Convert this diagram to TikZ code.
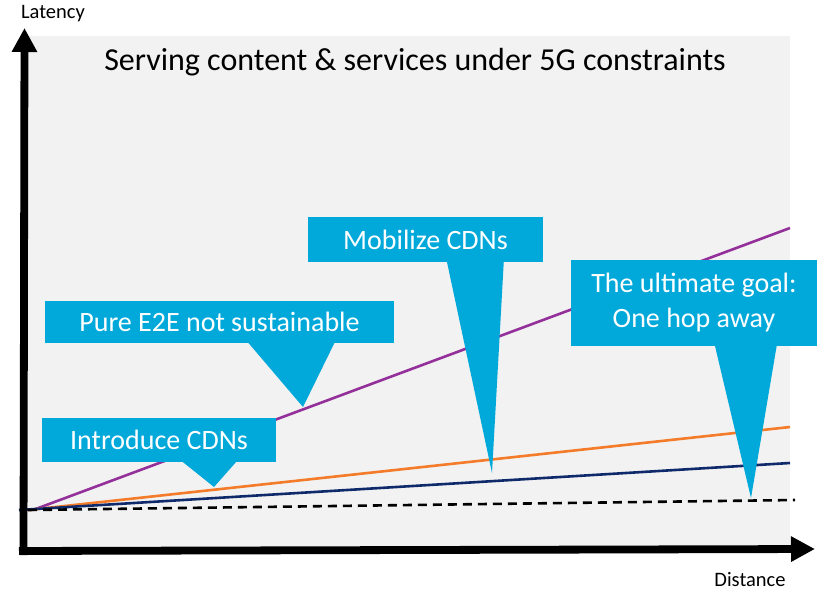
\documentclass[tikz,border=0pt]{standalone}
\usepackage{fontspec}
\setmainfont{Carlito}
\usetikzlibrary{arrows.meta}
\definecolor{calloutblue}{HTML}{00A9DA}
\definecolor{plotbg}{HTML}{F2F2F2}
\definecolor{linepurple}{HTML}{93309A}
\definecolor{lineorange}{HTML}{F47B2A}
\definecolor{linenavy}{HTML}{0E2A6B}
\tikzset{
  axis/.style = {
    line width = 7.8pt,
    -{Triangle[length = 24pt, width = 24pt]}
  },
  trend/.style = {
    line width = 2.6pt,
    color = #1
  },
  baseline trend/.style = {
    line width = 2.6pt,
    dash pattern = on 9pt off 6pt
  },
  callout/.style = {
    rectangle,
    fill = calloutblue,
    text = white,
    inner sep = 0pt,
    align = center,
    font = \fontsize{28}{35}\selectfont
  },
  pointer/.style = {
    fill = calloutblue
  },
  axis name/.style = {
    font = \fontsize{20.5}{24}\selectfont
  },
}

\begin{document}
\begin{tikzpicture}[x = 1pt, y = -1pt]
  \useasboundingbox (0,0) rectangle (817,592);
  \fill[plotbg] (27,36) rectangle (790,548);

  \node (title) at (415,62) {\fontsize{32}{38}\selectfont Serving content \& services under 5G constraints};

  % trend lines
  \coordinate (origin) at (28,510);
  \coordinate (purpleEnd) at (790,228);
  \coordinate (orangeEnd) at (790,427);
  \coordinate (navyEnd) at (790,463);
  \coordinate (dashEnd) at (795,500);
  \draw[trend = linepurple] (33,510) -- (purpleEnd);
  \draw[trend = lineorange] (origin) -- (orangeEnd);
  \draw[trend = linenavy] (19,510) -- (navyEnd);
  \draw[baseline trend] (origin) -- (dashEnd);

  % axes
  \coordinate (corner) at (23.5,555);
  \coordinate (yTop) at (24.5,28);
  \coordinate (xStart) at (19,551);
  \coordinate (xEnd) at (815,549);
  \draw[axis] (corner) -- (yTop);
  \draw[axis] (xStart) -- (xEnd);
  \node[axis name] (latency) at (53,14) {Latency};
  \node[axis name] (distance) at (750,580) {Distance};

  % callouts
  \node[callout, minimum width = 349pt, minimum height = 42pt] (pure) at (219.5,322) {Pure E2E not sustainable};
  \coordinate (pureTip) at (303,407);
  \fill[pointer] ([xshift = 203pt, yshift = 1pt]pure.south west) -- (pureTip) -- ([xshift = 290pt, yshift = 1pt]pure.south west) -- cycle;

  \node[callout, minimum width = 234pt, minimum height = 44pt] (intro) at (159,440) {Introduce CDNs};
  \coordinate (introTip) at (214,487);
  \fill[pointer] ([xshift = 140pt, yshift = 1pt]intro.south west) -- (introTip) -- ([xshift = 195pt, yshift = 1pt]intro.south west) -- cycle;

  \node[callout, minimum width = 235pt, minimum height = 45pt] (mobil) at (425.5,239.5) {Mobilize CDNs};
  \coordinate (mobilTip) at (492,473);
  \fill[pointer] ([xshift = 139pt, yshift = 1pt]mobil.south west) -- (mobilTip) -- ([xshift = 196pt, yshift = 1pt]mobil.south west) -- cycle;

  \node[callout, minimum width = 246pt, minimum height = 86pt] (goal) at (694,303) {The ultimate goal:\\One hop away};
  \coordinate (goalTip) at (751,498);
  \fill[pointer] ([xshift = 144pt, yshift = 1pt]goal.south west) -- (goalTip) -- ([xshift = 206pt, yshift = 1pt]goal.south west) -- cycle;
\end{tikzpicture}
\end{document}
